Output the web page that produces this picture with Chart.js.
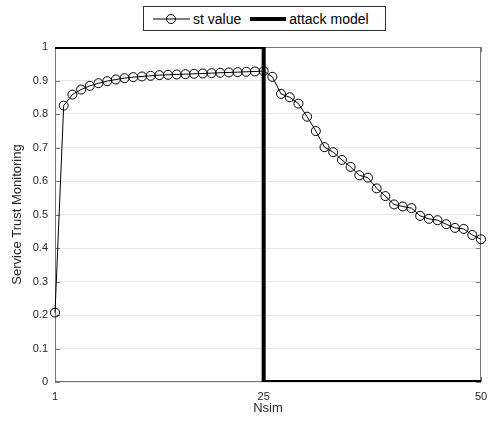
<!DOCTYPE html>
<html lang="en">
    <style>
        body{ margin:0; background:#fff; }
        .wrap{ position:relative; width:491px; height:428px; }
        #legendbox{
            position:absolute; left:143px; top:6px; width:241px; height:23px;
            border:1px solid #333; background:#fff;
            font-family:"Liberation Sans", Arial, sans-serif; font-size:14px; color:#000;
            display:flex; align-items:center;
        }
        #legendbox svg{ margin-left:9px; margin-right:3px; }
    </style>
    <head>
        <meta charset="UTF-8">
        <title>st value</title>
    </head>
    <body>
        <div class="wrap">
            <canvas id="myChart" width="491" height="428"></canvas>
            <div id="legendbox">
                <svg width="37" height="12"><line x1="0" y1="6" x2="37" y2="6" stroke="#000" stroke-width="1"/><circle cx="18" cy="6" r="4.5" fill="none" stroke="#000" stroke-width="1"/></svg>
                <span>st value</span>
                <svg width="36" height="12"><line x1="0" y1="6" x2="36" y2="6" stroke="#000" stroke-width="4"/></svg>
                <span>attack model</span>
            </div>
        </div>

        <script src="https://cdn.jsdelivr.net/npm/chart.js"></script>
        <script>

var nsim = [];//x軸 1..50
for (var i = 1; i <= 50; i++) nsim.push(i);
var stValue = [0.207, 0.825, 0.858, 0.873, 0.884, 0.892, 0.898, 0.903, 0.907, 0.910,
               0.912, 0.914, 0.916, 0.917, 0.918, 0.919, 0.920, 0.921, 0.922, 0.923,
               0.924, 0.925, 0.926, 0.927, 0.928, 0.911, 0.860, 0.850, 0.831, 0.792,
               0.749, 0.701, 0.686, 0.663, 0.642, 0.617, 0.610, 0.578, 0.555, 0.530,
               0.524, 0.519, 0.496, 0.487, 0.483, 0.471, 0.460, 0.457, 0.439, 0.426];
var attackX = [1, 25, 25, 50];
var attackY = [1, 1, 0, 0];
var xTicks = [1, 25, 50];

var frame = {//MATLAB風の枠と内向きの目盛り
    id: 'frame',
    beforeDatasetsDraw: function(chart) {
        var ctx = chart.ctx, a = chart.chartArea;
        var xs = chart.scales.x, ys = chart.scales.y;
        ctx.save();
        ctx.strokeStyle = '#777';
        ctx.lineWidth = 1;
        ctx.strokeRect(a.left + 0.5, a.top + 0.5, a.right - a.left - 1, a.bottom - a.top - 1);
        ctx.beginPath();
        ys.ticks.forEach(function(t) {
            var py = Math.round(ys.getPixelForValue(t.value)) + 0.5;
            ctx.moveTo(a.left, py); ctx.lineTo(a.left + 5, py);
            ctx.moveTo(a.right, py); ctx.lineTo(a.right - 5, py);
        });
        xTicks.forEach(function(v) {
            var px = Math.round(xs.getPixelForValue(v)) + 0.5;
            ctx.moveTo(px, a.bottom); ctx.lineTo(px, a.bottom - 5);
            ctx.moveTo(px, a.top); ctx.lineTo(px, a.top + 5);
        });
        ctx.stroke();
        ctx.restore();
    }
};

var font = { family: '"Liberation Sans", Arial, sans-serif', size: 11 };

var ctx = document.getElementById('myChart').getContext('2d');
var myChart = new Chart(ctx, {
    type: 'line',
    data: {
        datasets: [{
            label: 'st value',
            data: nsim.map(function(x, i) { return { x: x, y: stValue[i] }; }),
            borderColor: '#000',
            borderWidth: 1,
            backgroundColor: 'transparent',
            pointRadius: 4.5,
            pointBorderWidth: 1,
            pointBorderColor: '#000',
            pointBackgroundColor: 'transparent',
            tension: 0,
            clip: false
        }, {
            label: 'attack model',
            data: attackX.map(function(x, i) { return { x: x, y: attackY[i] }; }),
            borderColor: '#000',
            borderWidth: 4,
            pointRadius: 0,
            tension: 0
        }]
    },
    options: {
        responsive: false,
        animation: false,
        layout: { padding: { top: 47, right: 10, left: 0, bottom: 0 } },
        plugins: { legend: { display: false }, tooltip: { enabled: false } },
        scales: {
            x: {
                type: 'linear',
                min: 1, max: 50,
                afterBuildTicks: function(s) { s.ticks = xTicks.map(function(v) { return { value: v }; }); },
                afterFit: function(s) { s.height = 46; s.paddingLeft = 0; s.paddingRight = 0; },
                grid: { display: false, drawTicks: false },
                border: { display: false },
                ticks: { color: '#262626', font: font, padding: 8, maxRotation: 0, autoSkip: false },
                title: { display: true, text: 'Nsim', color: '#262626',
                         font: { family: font.family, size: 13 }, padding: { top: 0, bottom: 12 } }
            },
            y: {
                min: 0, max: 1,
                afterFit: function(s) { s.width = 55; },
                grid: { color: '#e6e6e6', drawTicks: false },
                border: { display: false },
                ticks: { stepSize: 0.1, color: '#262626', font: font, padding: 7,
                         callback: function(v) { return String(Number(v.toFixed(1))); } },
                title: { display: true, text: 'Service Trust Monitoring', color: '#262626',
                         font: { family: font.family, size: 13 }, padding: { top: 10, bottom: 0 } }
            }
        }
    },
    plugins: [frame]
});
        </script>
    </body>
</html>
